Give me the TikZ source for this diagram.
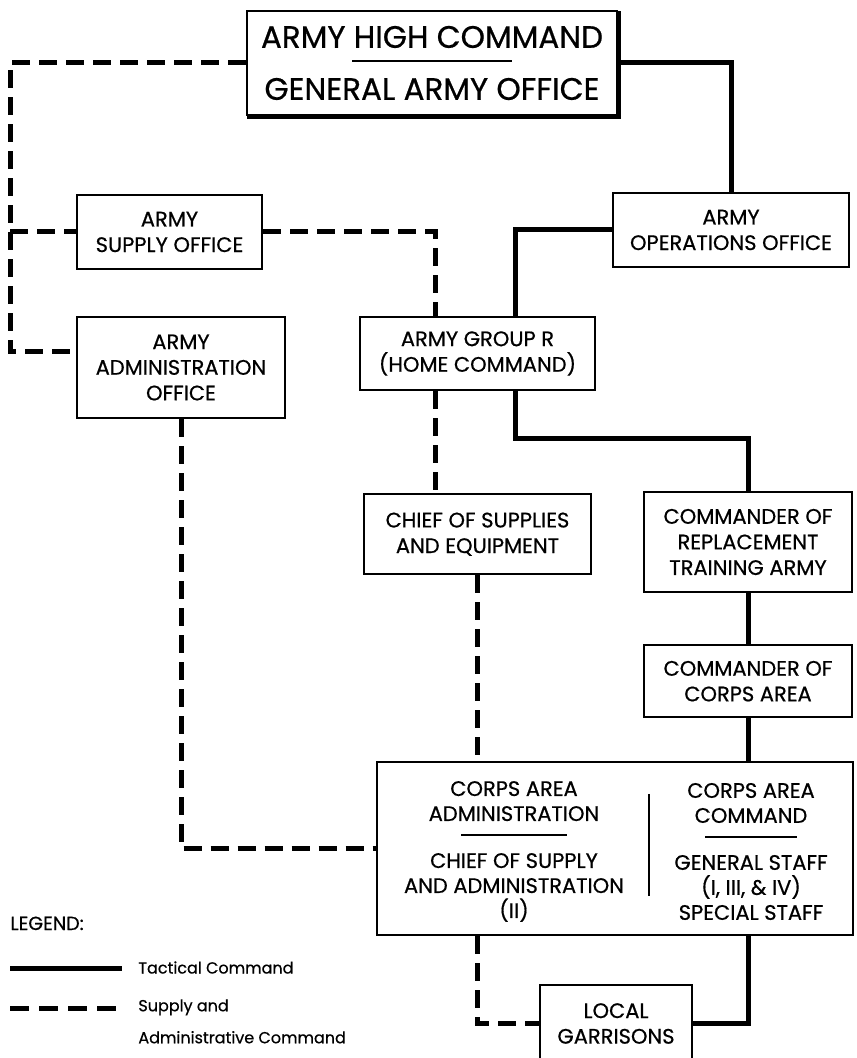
\documentclass[tikz,border=0pt]{standalone}
\usepackage{fontspec}
\setmainfont{Poppins}[UprightFeatures={FakeBold=0.6}]
\usetikzlibrary{positioning,calc}

\begin{document}
\begin{tikzpicture}[x=0.5pt,y=-0.5pt,
                    tac/.style={line width=2.5pt},
                    sup/.style={line width=2.5pt,dash pattern=on 9pt off 4.5pt}]
  \tikzstyle{box}=[draw,line width=1.1pt,align=center,inner sep=0pt,
                   font=\fontsize{10.5}{12.8}\selectfont]
  \tikzstyle{col}=[align=center,inner sep=0pt,font=\fontsize{10.5}{12.5}\selectfont]
  \tikzstyle{lgd}=[inner sep=0pt,align=left,font=\fontsize{8}{16}\selectfont]

  \useasboundingbox (0,0) rectangle (856,1058);

  \node[box,minimum width=185pt,minimum height=52pt,
        font=\fontsize{15.5}{17}\selectfont] (ahc) at (432,63)
        {ARMY HIGH COMMAND\\[-10pt]\rule{80pt}{1pt}\\[2pt]GENERAL ARMY OFFICE};
  \draw[line width=2pt] ($(ahc.south west)+(1,1)$) -- ($(ahc.south east)+(1,1)$)
                        -- ($(ahc.north east)+(1,1)$);

  \node[box,minimum width=92.5pt,minimum height=37pt] (aso) at (169.5,232)
        {ARMY\\SUPPLY OFFICE};
  \node[box,minimum width=104pt,minimum height=50.5pt] (aao) at (181,367.5)
        {ARMY\\ADMINISTRATION\\OFFICE};
  \node[box,minimum width=118pt,minimum height=37pt] (aoo) at (731,230)
        {ARMY\\OPERATIONS OFFICE};
  \node[box,minimum width=117.5pt,minimum height=36.5pt] (agr) at (477.5,353.5)
        {ARMY GROUP R\\(HOME COMMAND)};
  \node[box,minimum width=113.5pt,minimum height=40pt,below=51pt of agr] (cse)
        {CHIEF OF SUPPLIES\\AND EQUIPMENT};
  \node[box,minimum width=104pt,minimum height=50pt] (crt) at (748,542)
        {COMMANDER OF\\REPLACEMENT\\TRAINING ARMY};
  \node[box,minimum width=104pt,minimum height=36pt,below=25.5pt of crt] (cca)
        {COMMANDER OF\\CORPS AREA};

  \node[box,minimum width=238pt,minimum height=86.5pt] (cab) at (615,848.5) {};
  \node[col] (cadm) at (514,851.5)
        {CORPS AREA\\ADMINISTRATION\\[-5pt]\rule{53pt}{1pt}\\[3.5pt]%
         CHIEF OF SUPPLY\\AND ADMINISTRATION\\(II)};
  \node[col] (ccmd) at (751,851.5)
        {CORPS AREA\\COMMAND\\[-5pt]\rule{46pt}{1pt}\\[3.5pt]%
         GENERAL STAFF\\(I, III, \& IV)\\SPECIAL STAFF};
  \coordinate (dvt) at ($(cab.north west)+(273,33)$);
  \coordinate (dvb) at ($(cab.north west)+(273,135)$);
  \draw[line width=1.1pt] (dvt) -- (dvb);

  \node[box,minimum width=76pt,minimum height=38.5pt] (lg) at (616,1023.5)
        {LOCAL\\GARRISONS};

  \coordinate (lbot) at (10,352);
  \coordinate (lmid) at (10,232);
  \coordinate (agrs) at ($(agr.north west)+(77,0)$);
  \coordinate (agrt) at ($(agr.north west)+(157,0)$);

  \draw[sup] (ahc.west) -| (lbot) -- (lbot -| aao.west);
  \draw[sup] (lmid) -- (aso.west);
  \draw[sup] (aso.east) -| (agrs);
  \draw[tac] (ahc.east) -| (aoo.north);
  \draw[tac] (aoo.west) -| (agrt);
  \draw[sup] (agrs |- agr.south) -- (agrs |- cse.north);
  \draw[tac] (agrt |- agr.south) |- ($(crt.north)+(0,-52)$) -- (crt.north);
  \draw[sup] (cse.south) -- (cse.south |- cab.north);
  \draw[tac] (crt.south) -- (cca.north);
  \draw[tac] (cca.south) -- (cca.south |- cab.north);
  \draw[sup] (aao.south) |- (cab.west);
  \draw[sup] (cse.south |- cab.south) |- (lg.west);
  \draw[tac] (cca.south |- cab.south) |- (lg.east);

  \node[lgd,anchor=base west,font=\fontsize{9.5}{12}\selectfont] (lgh) at (10,930)
        {LEGEND:};
  \coordinate (ts) at (10,968);
  \coordinate (te) at (122,968);
  \draw[tac] (ts) -- (te);
  \node[lgd,anchor=base west] (tct) at (138,973.5) {Tactical Command};
  \coordinate (ss) at (10,1008);
  \coordinate (se) at (122,1008);
  \draw[sup,dash pattern=on 9.5pt off 5pt] (ss) -- (se);
  \node[lgd,anchor=north west] (sct) at (138,999)
        {Supply and\\Administrative Command};
\end{tikzpicture}
\end{document}
